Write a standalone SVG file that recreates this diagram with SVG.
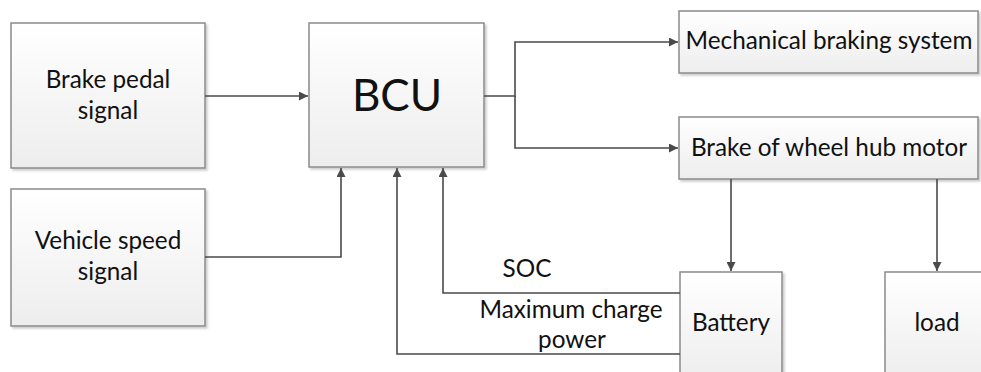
<svg xmlns="http://www.w3.org/2000/svg" width="981" height="372" viewBox="0 0 981 372">
<defs>
<linearGradient id="g" x1="0" y1="0" x2="0" y2="1">
<stop offset="0" stop-color="#ffffff"/>
<stop offset="1" stop-color="#ededed"/>
</linearGradient>
<filter id="sh" x="-5%" y="-5%" width="115%" height="115%">
<feGaussianBlur in="SourceAlpha" stdDeviation="1.2"/>
<feOffset dx="2" dy="2" result="b"/>
<feComponentTransfer><feFuncA type="linear" slope="0.2"/></feComponentTransfer>
<feMerge><feMergeNode/><feMergeNode in="SourceGraphic"/></feMerge>
</filter>
<marker id="ar" viewBox="0 0 10 10" refX="10" refY="5" markerWidth="9" markerHeight="9" markerUnits="userSpaceOnUse" orient="auto">
<path d="M0,0 L10,5 L0,10 z" fill="#4a4a4a"/>
</marker>
</defs>
<style>
.box{fill:url(#g);stroke:#8a8a8a;stroke-width:1.5;filter:url(#sh)}
.t{font-family:Lato,"Open Sans",sans-serif;fill:#111;text-anchor:middle;font-size:24.3px}
.c{fill:none;stroke:#4a4a4a;stroke-width:1.6}
</style>
<g id="brake-pedal"><rect class="box" x="11" y="23" width="194" height="145"/><text class="t" x="108" y="88">Brake pedal</text><text class="t" x="108" y="119">signal</text></g>
<g id="vehicle-speed"><rect class="box" x="11" y="189" width="194" height="137"/><text class="t" x="108" y="249">Vehicle speed</text><text class="t" x="108" y="280">signal</text></g>
<g id="bcu"><rect class="box" x="309" y="23" width="175" height="144"/><text class="t" x="397" y="111" style="font-size:44px">BCU</text></g>
<g id="mechanical"><rect class="box" x="679" y="11" width="299" height="62"/><text class="t" x="829" y="49">Mechanical braking system</text></g>
<g id="hub-motor"><rect class="box" x="679" y="117" width="299" height="62"/><text class="t" x="829" y="156">Brake of wheel hub motor</text></g>
<g id="battery"><rect class="box" x="680" y="272" width="102" height="110"/><text class="t" x="731" y="331">Battery</text></g>
<g id="load"><rect class="box" x="885" y="272" width="104" height="110"/><text class="t" x="937" y="331">load</text></g>
<g id="connectors">
<path class="c" d="M205,96 H308" marker-end="url(#ar)"/>
<path class="c" d="M205,257 H341 V168" marker-end="url(#ar)"/>
<path class="c" d="M484,96 H515 V42 H678" marker-end="url(#ar)"/>
<path class="c" d="M515,96 V148 H678" marker-end="url(#ar)"/>
<path class="c" d="M731,179 V271" marker-end="url(#ar)"/>
<path class="c" d="M937,179 V271" marker-end="url(#ar)"/>
<path class="c" d="M680,293 H443 V168" marker-end="url(#ar)"/>
<path class="c" d="M680,354 H397 V168" marker-end="url(#ar)"/>
</g>
<g id="labels">
<text class="t" x="527" y="277">SOC</text>
<text class="t" x="571" y="318">Maximum charge</text>
<text class="t" x="572" y="348">power</text>
</g>
</svg>
